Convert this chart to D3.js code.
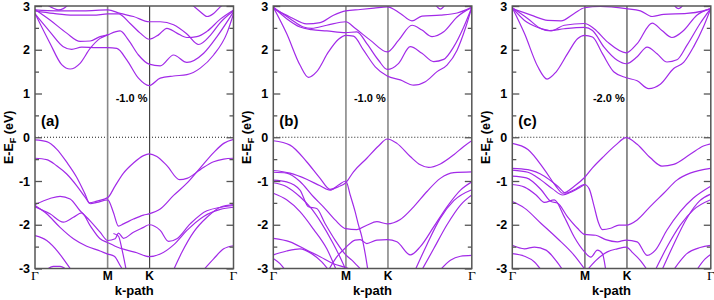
<!DOCTYPE html>
<html><head><meta charset="utf-8">
<script src="https://cdn.jsdelivr.net/npm/d3@7"></script>
<style>body{margin:0;background:#fff}</style>
</head><body>
<svg id="c" width="714" height="300"></svg>
<script>
// ---- data ----
const kTicks = [0, 0.577, 0.911, 1.577];
const kLabels = ["Γ", "M", "K", "Γ"];
const yTicks = [-3, -2, -1, 0, 1, 2, 3];
const yMinor = [-2.5, -1.5, -0.5, 0.5, 1.5, 2.5];
const panelLabels = ["(a)", "(b)", "(c)"];
const strainLabels = ["-1.0 %", "-1.0 %", "-2.0 %"];

const bandsA = [
  [[0,2.83],[0.119,2.15],[0.212,1.66],[0.279,1.56],[0.358,1.69],[0.438,2.03],[0.517,2.26],[0.578,2.34],[0.676,2.43],[0.743,2.22],[0.822,1.88],[0.907,1.67],[0.995,1.63],[1.101,1.88],[1.207,1.71],[1.340,1.92],[1.446,2.30],[1.578,2.87]],
  [[0,2.82],[0.119,2.41],[0.225,2.07],[0.292,2.01],[0.371,2.06],[0.491,2.05],[0.578,2.05],[0.650,2.03],[0.729,1.77],[0.822,1.35],[0.907,1.18],[0.995,1.35],[1.101,1.40],[1.207,1.43],[1.313,1.58],[1.419,1.88],[1.525,2.38],[1.578,2.83]],
  [[0,2.89],[0.146,2.83],[0.305,2.79],[0.464,2.79],[0.578,2.82],[0.663,2.82],[0.756,2.60],[0.836,2.38],[0.907,2.24],[0.981,2.34],[1.048,2.49],[1.127,2.38],[1.207,2.28],[1.286,2.30],[1.366,2.42],[1.472,2.70],[1.578,2.91]],
  [[0,2.91],[0.172,2.89],[0.385,2.89],[0.578,2.91],[0.676,2.83],[0.782,2.76],[0.907,2.64],[0.995,2.64],[1.101,2.57],[1.207,2.36],[1.300,2.12],[1.393,2.33],[1.472,2.62],[1.578,2.89]],
  [[0,2.92],[0.119,2.68],[0.252,2.38],[0.358,2.19],[0.438,2.20],[0.517,2.30],[0.578,2.34]],
  [[0.093,3.03],[0.146,2.95],[0.186,2.91],[0.225,2.94],[0.265,3.03]],
  [[1.247,3.03],[1.313,2.87],[1.366,2.76],[1.419,2.83],[1.472,2.98],[1.499,3.04]],
  [[0,-0.06],[0.093,-0.10],[0.172,-0.27],[0.252,-0.57],[0.332,-0.92],[0.398,-1.30],[0.432,-1.50],[0.491,-1.46],[0.578,-1.38],[0.637,-1.11],[0.703,-0.82],[0.782,-0.59],[0.862,-0.42],[0.907,-0.38],[0.968,-0.44],[1.048,-0.65],[1.149,-0.97],[1.207,-0.94],[1.313,-0.74],[1.419,-0.56],[1.499,-0.50],[1.578,-0.48]],
  [[0,-0.48],[0.093,-0.51],[0.172,-0.65],[0.252,-0.84],[0.332,-1.11],[0.398,-1.37],[0.440,-1.52],[0.491,-1.49],[0.578,-1.43],[0.623,-1.72],[0.663,-2.03],[0.703,-1.98],[0.782,-1.87],[0.862,-1.78],[0.907,-1.75],[0.995,-1.64],[1.101,-1.33],[1.207,-1.05],[1.313,-0.70],[1.419,-0.35],[1.499,-0.14],[1.578,-0.05]],
  [[0,-1.54],[0.119,-1.40],[0.199,-1.35],[0.279,-1.41],[0.358,-1.68],[0.438,-1.91],[0.517,-2.17],[0.578,-2.36],[0.637,-2.32],[0.663,-2.19],[0.703,-2.31],[0.782,-2.17],[0.862,-2.06],[0.907,-2.00],[0.995,-2.13],[1.061,-2.38],[1.127,-2.32],[1.233,-1.98],[1.366,-1.68],[1.578,-1.56]],
  [[0,-1.59],[0.119,-1.75],[0.225,-1.94],[0.305,-1.83],[0.371,-1.73],[0.438,-2.02],[0.517,-2.32],[0.578,-2.41],[0.637,-2.49],[0.716,-2.57],[0.809,-2.64],[0.907,-2.73],[0.995,-2.67],[1.101,-2.46],[1.207,-2.13],[1.340,-1.81],[1.472,-1.65],[1.578,-1.60]],
  [[0,-1.56],[0.093,-1.75],[0.199,-2.06],[0.305,-2.32],[0.411,-2.49],[0.517,-2.60],[0.578,-2.67],[0.630,-2.72],[0.680,-2.95],[0.700,-3.05]],
  [[0,-2.25],[0.093,-2.36],[0.186,-2.63],[0.252,-2.89],[0.292,-3.05]],
  [[0.093,-3.03],[0.146,-2.95],[0.199,-2.95],[0.252,-3.03]],
  [[1.101,-3.03],[1.167,-2.63],[1.260,-2.17],[1.366,-1.83],[1.472,-1.60],[1.578,-1.54]],
  [[1.340,-3.03],[1.419,-2.78],[1.499,-2.55],[1.578,-2.48]],
  [[0.623,-2.20],[0.663,-2.26],[0.690,-2.55],[0.724,-3.03]]
];

const bandsB = [
  [[0,2.97],[0.106,2.37],[0.212,1.65],[0.279,1.37],[0.345,1.50],[0.438,1.95],[0.518,2.24],[0.576,2.33],[0.637,2.31],[0.717,1.99],[0.810,1.61],[0.905,1.40],[1.009,1.31],[1.115,1.19],[1.208,1.27],[1.301,1.50],[1.380,1.65],[1.460,1.99],[1.526,2.49],[1.577,2.97]],
  [[0,2.97],[0.106,2.71],[0.212,2.52],[0.305,2.46],[0.425,2.43],[0.576,2.39],[0.664,2.41],[0.743,2.14],[0.836,1.76],[0.905,1.55],[0.996,1.69],[1.088,2.07],[1.181,1.92],[1.274,1.73],[1.354,1.78],[1.434,2.07],[1.513,2.52],[1.577,2.97]],
  [[0,2.97],[0.133,2.71],[0.239,2.52],[0.305,2.49],[0.425,2.56],[0.576,2.64],[0.650,2.49],[0.770,2.22],[0.905,1.95],[0.996,2.22],[1.102,2.56],[1.181,2.45],[1.261,2.30],[1.354,2.41],[1.460,2.75],[1.577,2.97]],
  [[0,2.94],[0.133,2.75],[0.265,2.59],[0.372,2.62],[0.478,2.79],[0.576,2.89],[0.690,2.92],[0.800,2.95],[0.905,2.98],[1.009,2.83],[1.102,2.66],[1.181,2.77],[1.327,2.79],[1.460,2.84],[1.577,2.97]],
  [[1.287,3.03],[1.327,2.93],[1.367,3.03]],
  [[0,-0.08],[0.133,-0.18],[0.265,-0.56],[0.372,-0.94],[0.451,-1.19],[0.518,-1.13],[0.576,-1.04],[0.637,-0.79],[0.743,-0.48],[0.836,-0.20],[0.905,-0.04],[0.982,-0.14],[1.088,-0.44],[1.168,-0.63],[1.234,-0.69],[1.327,-0.61],[1.434,-0.40],[1.513,-0.21],[1.577,-0.08]],
  [[0,-0.76],[0.133,-0.82],[0.265,-0.96],[0.372,-1.11],[0.451,-1.21],[0.518,-1.09],[0.576,-1.00],[0.611,-1.32],[0.650,-1.70],[0.677,-2.01],[0.703,-2.27],[0.730,-2.66],[0.751,-3.03]],
  [[0,-0.80],[0.106,-0.82],[0.212,-1.01],[0.319,-1.36],[0.398,-1.59],[0.491,-1.89],[0.576,-2.09],[0.664,-2.11],[0.743,-2.01],[0.823,-1.93],[0.905,-1.98],[1.009,-1.88],[1.115,-1.59],[1.221,-1.24],[1.327,-0.94],[1.434,-0.81],[1.577,-0.79]],
  [[0,-0.98],[0.106,-1.02],[0.212,-1.21],[0.279,-1.59],[0.345,-1.63],[0.411,-1.97],[0.491,-2.35],[0.576,-2.69],[0.624,-2.81],[0.665,-2.93],[0.700,-3.03]],
  [[0,-1.04],[0.106,-1.13],[0.212,-1.36],[0.300,-1.62],[0.380,-1.95],[0.470,-2.40],[0.540,-2.80],[0.576,-3.03]],
  [[0,-1.28],[0.106,-1.43],[0.212,-1.70],[0.319,-2.10],[0.425,-2.55],[0.500,-3.03]],
  [[0.440,-3.03],[0.500,-2.75],[0.576,-2.52],[0.650,-2.35],[0.690,-2.34],[0.743,-2.43],[0.823,-2.35],[0.905,-2.34],[0.982,-2.39],[1.088,-2.69],[1.168,-2.50],[1.274,-2.05],[1.380,-1.59],[1.487,-1.21],[1.577,-1.02]],
  [[1.128,-3.03],[1.221,-2.45],[1.327,-1.85],[1.434,-1.45],[1.577,-1.20]],
  [[1.181,-3.03],[1.274,-2.55],[1.380,-2.00],[1.487,-1.55],[1.577,-1.32]],
  [[1.327,-3.03],[1.407,-2.81],[1.487,-2.72],[1.577,-2.70]],
  [[0,-2.31],[0.133,-2.39],[0.265,-2.58],[0.372,-2.73],[0.478,-2.89],[0.576,-2.98],[0.620,-3.03]],
  [[0,-2.69],[0.106,-2.60],[0.212,-2.55],[0.305,-2.66],[0.385,-2.85],[0.438,-3.03]],
  [[0,-2.77],[0.053,-2.89],[0.093,-3.03]]
];

const bandsC = [
  [[0,2.96],[0.097,2.37],[0.203,1.61],[0.276,1.33],[0.347,1.49],[0.439,1.91],[0.518,2.25],[0.574,2.33],[0.637,2.29],[0.716,1.91],[0.808,1.49],[0.905,1.36],[0.992,1.29],[1.084,1.11],[1.176,1.21],[1.282,1.57],[1.361,1.71],[1.439,2.06],[1.518,2.52],[1.576,2.94]],
  [[0,2.96],[0.097,2.67],[0.203,2.51],[0.295,2.44],[0.413,2.48],[0.574,2.51],[0.637,2.44],[0.729,2.06],[0.834,1.76],[0.905,1.68],[0.992,1.84],[1.071,2.06],[1.150,1.91],[1.229,1.72],[1.308,1.77],[1.387,2.10],[1.492,2.60],[1.576,2.94]],
  [[0,2.96],[0.124,2.71],[0.229,2.48],[0.308,2.43],[0.413,2.56],[0.574,2.60],[0.650,2.48],[0.755,2.18],[0.905,1.93],[0.992,2.14],[1.111,2.61],[1.189,2.44],[1.268,2.28],[1.361,2.44],[1.466,2.79],[1.576,2.94]],
  [[0,2.94],[0.150,2.79],[0.282,2.67],[0.387,2.66],[0.492,2.83],[0.574,2.96],[0.700,2.99],[0.905,2.94],[1.018,2.89],[1.111,2.76],[1.203,2.81],[1.387,2.83],[1.518,2.89],[1.576,2.94]],
  [[1.282,3.03],[1.320,2.94],[1.360,3.03]],
  [[0,-0.14],[0.124,-0.28],[0.255,-0.74],[0.347,-1.12],[0.400,-1.28],[0.492,-1.12],[0.574,-0.92],[0.637,-0.70],[0.729,-0.43],[0.821,-0.18],[0.905,-0.01],[0.992,-0.16],[1.097,-0.47],[1.189,-0.66],[1.282,-0.62],[1.413,-0.39],[1.518,-0.20],[1.576,-0.15]],
  [[0,-0.71],[0.124,-0.74],[0.255,-0.89],[0.361,-1.12],[0.426,-1.28],[0.492,-1.20],[0.574,-1.08],[0.611,-1.18],[0.650,-1.58],[0.682,-1.93],[0.716,-2.11],[0.782,-2.08],[0.847,-2.01],[0.905,-2.01],[0.992,-1.89],[1.097,-1.58],[1.203,-1.28],[1.308,-0.98],[1.413,-0.82],[1.576,-0.71]],
  [[0,-0.75],[0.124,-0.80],[0.229,-0.98],[0.320,-1.18],[0.400,-1.32],[0.470,-1.25],[0.574,-1.08]],
  [[0,-0.89],[0.111,-0.93],[0.229,-1.20],[0.308,-1.47],[0.361,-1.51],[0.439,-1.82],[0.518,-2.08],[0.574,-2.22],[0.663,-2.24],[0.742,-2.34],[0.834,-2.39],[0.905,-2.35],[0.992,-2.39],[1.071,-2.70],[1.137,-2.58],[1.229,-2.12],[1.334,-1.70],[1.439,-1.39],[1.576,-1.12]],
  [[0,-1.08],[0.097,-1.14],[0.189,-1.32],[0.255,-1.49],[0.334,-1.43],[0.413,-1.82],[0.492,-2.28],[0.574,-2.62],[0.624,-2.74],[0.676,-2.58],[0.716,-2.66],[0.742,-3.03]],
  [[0,-1.47],[0.097,-1.62],[0.229,-1.97],[0.361,-2.32],[0.492,-2.70],[0.574,-3.01]],
  [[0,-2.47],[0.097,-2.55],[0.176,-2.51],[0.268,-2.58],[0.347,-2.82],[0.400,-3.03]],
  [[0,-2.66],[0.097,-2.72],[0.176,-2.85],[0.229,-3.03]],
  [[0.597,-3.03],[0.663,-2.82],[0.755,-2.62],[0.834,-2.55],[0.905,-2.51],[0.960,-2.65],[1.018,-2.82],[1.071,-3.03]],
  [[1.137,-3.03],[1.229,-2.51],[1.334,-2.01],[1.439,-1.66],[1.576,-1.43]],
  [[1.190,-3.03],[1.282,-2.45],[1.387,-1.85],[1.490,-1.45],[1.576,-1.30]],
  [[1.282,-3.03],[1.387,-2.66],[1.492,-2.52],[1.576,-2.47]],
  [[1.466,-3.03],[1.532,-2.78],[1.576,-2.68]]
];
const allBands = [bandsA, bandsB, bandsC];

// ---- layout ----
const panelLeft = [35, 273.3, 512.3];
const panelW = 198.5;
const plotTop = 6, plotBottom = 268.5;
const bandColor = "#a22ae8";
const frameColor = "#555";
const vlineStyle = [["#888", 1.6, "#222", 1], ["#888", 1.6, "#888", 1.6], ["#222", 1, "#222", 1]];

const svg = d3.select("#c");
const defs = svg.append("defs");

allBands.forEach((bands, i) => {
  const L = panelLeft[i];
  const x = d3.scaleLinear().domain([kTicks[0], kTicks[3]]).range([L, L + panelW]);
  const y = d3.scaleLinear().domain([-3, 3]).range([plotBottom, plotTop]);
  const g = svg.append("g");

  defs.append("clipPath").attr("id", "clip" + i)
    .append("rect").attr("x", L).attr("y", plotTop).attr("width", panelW).attr("height", plotBottom - plotTop);

  g.append("line").attr("x1", L).attr("x2", L + panelW).attr("y1", y(0)).attr("y2", y(0))
    .attr("stroke", "#000").attr("stroke-width", 0.9).attr("stroke-dasharray", "1,2");

  [1, 2].forEach((j, n) => {
    g.append("line").attr("x1", x(kTicks[j])).attr("x2", x(kTicks[j]))
      .attr("y1", plotTop).attr("y2", plotBottom)
      .attr("stroke", vlineStyle[i][n * 2]).attr("stroke-width", vlineStyle[i][n * 2 + 1]);
  });

  const line = d3.line().x(d => x(d[0])).y(d => y(d[1])).curve(d3.curveMonotoneX);
  g.append("g").attr("clip-path", "url(#clip" + i + ")")
    .selectAll("path").data(bands).join("path")
    .attr("d", line).attr("fill", "none").attr("stroke", bandColor).attr("stroke-width", 1.2);

  const styleAxis = a => { a.select(".domain").remove(); a.selectAll("line").attr("stroke", frameColor).attr("stroke-width", 1.3); };
  const left = g.append("g").attr("transform", `translate(${L},0)`)
    .call(d3.axisLeft(y).tickValues(yTicks).tickSize(-7).tickPadding(5).tickFormat(d => String(d)));
  styleAxis(left);
  left.selectAll("text").attr("font-family", "Liberation Sans, Arial, sans-serif")
    .attr("font-weight", "bold").attr("font-size", 12.5).attr("fill", "#000");
  styleAxis(g.append("g").attr("transform", `translate(${L},0)`)
    .call(d3.axisLeft(y).tickValues(yMinor).tickSize(-4).tickFormat("")));
  styleAxis(g.append("g").attr("transform", `translate(${L + panelW},0)`)
    .call(d3.axisRight(y).tickValues(yTicks).tickSize(-7).tickFormat("")));
  styleAxis(g.append("g").attr("transform", `translate(${L + panelW},0)`)
    .call(d3.axisRight(y).tickValues(yMinor).tickSize(-4).tickFormat("")));

  g.append("rect").attr("x", L).attr("y", plotTop).attr("width", panelW).attr("height", plotBottom - plotTop)
    .attr("fill", "none").attr("stroke", frameColor).attr("stroke-width", 1.5);

  kTicks.forEach((k, j) => {
    const isG = kLabels[j] === "Γ";
    g.append("text").attr("x", x(k)).attr("y", 279.5).attr("text-anchor", "middle")
      .attr("font-family", isG ? "Liberation Serif, Times New Roman, serif" : "Liberation Sans, Arial, sans-serif")
      .attr("font-weight", isG ? "normal" : "bold").attr("font-size", isG ? 13.5 : 12)
      .text(kLabels[j]);
  });
  g.append("text").attr("x", L + panelW / 2).attr("y", 295).attr("text-anchor", "middle")
    .attr("font-family", "Liberation Sans, Arial, sans-serif").attr("font-weight", "bold").attr("font-size", 13)
    .text("k-path");

  const yl = g.append("text").attr("transform", `translate(${L - 22},${(plotTop + plotBottom) / 2}) rotate(-90)`)
    .attr("text-anchor", "middle").attr("font-family", "Liberation Sans, Arial, sans-serif")
    .attr("font-weight", "bold").attr("font-size", 12.5);
  yl.append("tspan").text("E-E");
  yl.append("tspan").attr("font-size", 9).attr("dy", 3).text("F");
  yl.append("tspan").attr("dy", -3).text(" (eV)");

  g.append("text").attr("x", L + 6).attr("y", 126).attr("font-family", "Liberation Sans, Arial, sans-serif")
    .attr("font-weight", "bold").attr("font-size", 15).text(panelLabels[i]);
  g.append("text").attr("x", x(kTicks[1]) + 8).attr("y", 102).attr("font-family", "Liberation Sans, Arial, sans-serif")
    .attr("font-weight", "bold").attr("font-size", 11).text(strainLabels[i]);
});
</script>
</body></html>
